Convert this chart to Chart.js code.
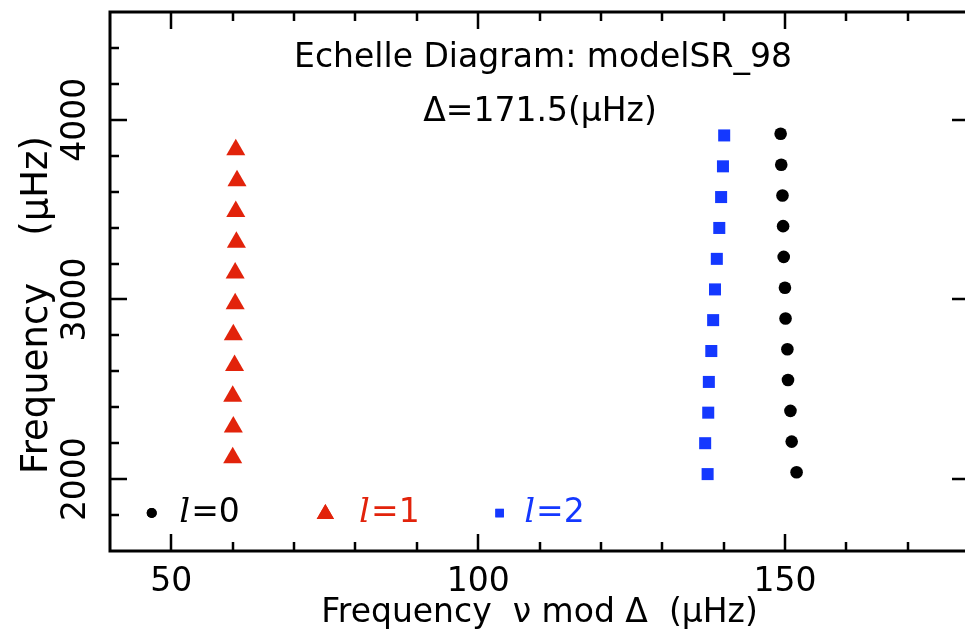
<!DOCTYPE html>
<html>
<head>
<meta charset="utf-8">
<script src="https://cdn.jsdelivr.net/npm/chart.js@4/dist/chart.umd.min.js"></script>
<style>
    html, body { margin: 0; padding: 0; background: #ffffff; overflow: hidden; }
    /* the original is cropped just left of the right-hand frame line */
    #wrap { width: 965px; height: 635px; overflow: hidden; }
</style>
</head>
<body>
<div id="wrap"><canvas id="echelle" width="980" height="635"></canvas></div>
<script>
// l = 0, 1, 2 modes: nu mod Delta (x) against nu (y)
const l0Mod = [149.3, 149.4, 149.6, 149.7, 149.8, 150.0, 150.1, 150.4, 150.5, 150.9, 151.1, 151.9];
const l0Freq = [3922, 3750, 3579, 3408, 3237, 3065, 2894, 2723, 2552, 2380, 2209, 2038];

const l1Mod = [60.5, 60.7, 60.5, 60.6, 60.4, 60.4, 60.1, 60.3, 60.0, 60.1, 60.0];
const l1Freq = [3833, 3661, 3490, 3318, 3147, 2976, 2804, 2633, 2462, 2290, 2119];

const l2Mod = [140.1, 139.9, 139.6, 139.3, 138.9, 138.6, 138.3, 138.0, 137.6, 137.5, 137.0, 137.4];
const l2Freq = [3913, 3741, 3570, 3398, 3226, 3056, 2885, 2713, 2541, 2370, 2200, 2028];

const xMajor = [50, 100, 150];
const yMajor = [2000, 3000, 4000];
const yLabels = ['2000', '3000', '4000'];

const titleLines = ['Echelle Diagram: modelSR_98', 'Δ=171.5(μHz)'];
const legendItems = [
    { label: '0', color: '#000000', style: 'circle' },
    { label: '1', color: '#e2230b', style: 'triangle' },
    { label: '2', color: '#1438ff', style: 'rect' },
];

const FONT = '"DejaVu Sans", sans-serif';

function toPoints(xs, ys) {
    return xs.map((v, i) => ({ x: v, y: ys[i] }));
}

// IDL-like frame: inward ticks on every side, labels and notes inside the box
const framePlugin = {
    id: 'frame',
    afterDraw(chart) {
        const { ctx, chartArea: a, scales: { x, y } } = chart;
        ctx.save();
        ctx.strokeStyle = '#000000';
        ctx.lineCap = 'butt';

        ctx.lineWidth = 3;
        ctx.strokeRect(a.left, a.top, a.right - a.left, a.bottom - a.top);

        ctx.lineWidth = 2.5;
        ctx.beginPath();
        for (let v = 50; v < x.max; v += 10) {
            const px = Math.round(x.getPixelForValue(v));
            const len = xMajor.includes(v) ? 17 : 9;
            ctx.moveTo(px, a.bottom);
            ctx.lineTo(px, a.bottom - len);
            ctx.moveTo(px, a.top);
            ctx.lineTo(px, a.top + len);
        }
        for (let v = 1800; v < y.max; v += 200) {
            const py = Math.round(y.getPixelForValue(v));
            ctx.moveTo(a.left, py);
            ctx.lineTo(a.left + (yMajor.includes(v) ? 17 : 9), py);
        }
        // right side: only the major ticks reach into the cropped picture
        yMajor.forEach((v) => {
            const py = Math.round(y.getPixelForValue(v));
            ctx.moveTo(a.right, py);
            ctx.lineTo(a.right - 17, py);
        });
        ctx.stroke();

        // y tick labels, rotated like the original
        ctx.fillStyle = '#000000';
        ctx.font = `33px ${FONT}`;
        ctx.textAlign = 'center';
        ctx.textBaseline = 'middle';
        yMajor.forEach((v, i) => {
            ctx.save();
            ctx.translate(a.left - 34, y.getPixelForValue(v));
            ctx.rotate(-Math.PI / 2);
            ctx.fillText(yLabels[i], 0, 0);
            ctx.restore();
        });

        // y axis title
        ctx.save();
        ctx.font = `37px ${FONT}`;
        ctx.translate(37, 305);
        ctx.rotate(-Math.PI / 2);
        ctx.fillText('Frequency    (μHz)', 0, 0);
        ctx.restore();

        // notes at the top of the box
        ctx.font = `33px ${FONT}`;
        ctx.fillText(titleLines[0], 543, 58);
        ctx.fillText(titleLines[1], 540, 112);

        // legend row near the bottom of the box
        const ly = y.getPixelForValue(1800) - 2;
        const slots = [[46.8, 51.3], [75.1, 80.6], [103.5, 107.5]];
        legendItems.forEach((item, i) => {
            const mx = x.getPixelForValue(slots[i][0]);
            const tx = x.getPixelForValue(slots[i][1]);
            const radius = item.style === 'circle' ? 5 : (item.style === 'triangle' ? 10 : 6);
            ctx.fillStyle = item.color;
            ctx.strokeStyle = item.color;
            Chart.helpers.drawPoint(ctx, { pointStyle: item.style, radius, borderWidth: 0 }, mx, item.style === 'triangle' ? ly + 1 : ly);
            ctx.fill();
            ctx.textAlign = 'left';
            ctx.font = `italic 34px "DejaVu Serif", serif`;
            ctx.fillText('l', tx, ly);
            const w = ctx.measureText('l').width;
            ctx.font = `33px ${FONT}`;
            ctx.fillText('=' + item.label, tx + w + 1, ly);
        });

        ctx.restore();
    },
};

new Chart(document.getElementById('echelle'), {
    type: 'scatter',
    data: {
        datasets: [
            {
                label: 'l=0',
                data: toPoints(l0Mod, l0Freq),
                pointStyle: 'circle',
                pointRadius: 6.3,
                backgroundColor: '#000000',
                borderWidth: 0,
            },
            {
                label: 'l=1',
                data: toPoints(l1Mod, l1Freq),
                pointStyle: 'triangle',
                pointRadius: 11,
                backgroundColor: '#e2230b',
                borderWidth: 0,
            },
            {
                label: 'l=2',
                data: toPoints(l2Mod, l2Freq),
                pointStyle: 'rect',
                pointRadius: 8.5,
                backgroundColor: '#1438ff',
                borderWidth: 0,
            },
        ],
    },
    options: {
        responsive: false,
        animation: false,
        layout: {
            padding: { left: 110, top: 12, right: 4, bottom: 0 },
        },
        plugins: {
            legend: { display: false },
            tooltip: { enabled: false },
        },
        scales: {
            x: {
                type: 'linear',
                min: 40,
                max: 180,
                grid: { display: false, drawTicks: false },
                border: { display: false },
                ticks: {
                    stepSize: 10,
                    autoSkip: false,
                    maxRotation: 0,
                    padding: 12,
                    color: '#000000',
                    font: { family: FONT, size: 33 },
                    callback: (v) => (xMajor.includes(v) ? String(v) : ''),
                },
                title: {
                    display: true,
                    text: 'Frequency  ν mod Δ  (μHz)',
                    color: '#000000',
                    font: { family: FONT, size: 33 },
                    padding: { top: 0, bottom: 2 },
                },
                afterFit: (scale) => {
                    scale.height = 84;
                    scale.paddingLeft = 0;
                    scale.paddingRight = 0;
                },
            },
            y: {
                type: 'linear',
                min: 1600,
                max: 4600,
                display: false,
            },
        },
    },
    plugins: [framePlugin],
});
</script>
</body>
</html>
